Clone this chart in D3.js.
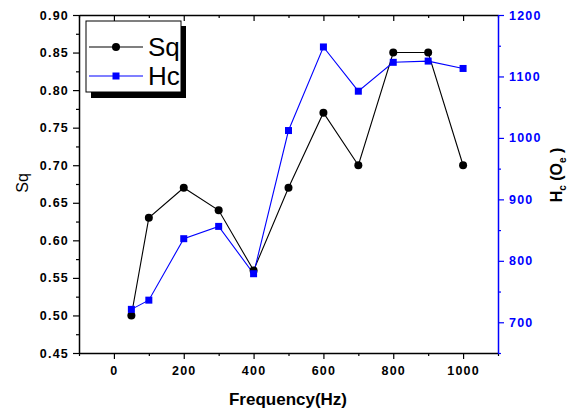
<!DOCTYPE html>
<html><head><meta charset="utf-8">
<script src="https://cdn.jsdelivr.net/npm/d3@7"></script>
<style>body{margin:0;background:#fff}svg{display:block}text{font-family:"Liberation Sans",Arial,sans-serif}</style>
</head><body>
<svg id="c" width="578" height="412"></svg>
<script>
const freq = [50, 100, 200, 300, 400, 500, 600, 700, 800, 900, 1000];
const sq = [0.50, 0.63, 0.67, 0.64, 0.56, 0.67, 0.77, 0.70, 0.85, 0.85, 0.70];
const hc = [721, 736, 836, 856, 779, 1012, 1148, 1076, 1123, 1125, 1113];
const xTicks = [0, 200, 400, 600, 800, 1000];
const yLeftTicks = [0.45, 0.50, 0.55, 0.60, 0.65, 0.70, 0.75, 0.80, 0.85, 0.90];
const yRightTicks = [700, 800, 900, 1000, 1100, 1200];

const svg = d3.select("#c");
const L = 79, R = 498, T = 15, B = 353;
const x = d3.scaleLinear().domain([-100, 1100]).range([L, R]);
const yl = d3.scaleLinear().domain([0.45, 0.90]).range([B, T]);
const yr = d3.scaleLinear().domain([650, 1200]).range([B, T]);
const blue = "#0000ff";

function style(g, color, sz) {
  g.selectAll("path.domain").attr("stroke", color).attr("stroke-width", 1.5);
  g.selectAll(".tick line").attr("stroke", color).attr("stroke-width", 1.2);
  g.selectAll(".tick text").attr("fill", color).attr("font-weight", "bold").attr("font-size", sz)
    .attr("letter-spacing", "1.2px");
}

// minor ticks
const xMinor = d3.range(-100, 1101, 200);
const ylMinor = d3.range(0, 9).map(i => 0.475 + i * 0.05);
const yrMinor = [650, 750, 850, 950, 1050, 1150];

// bottom axis
const gb = svg.append("g").attr("transform", `translate(0,${B})`)
  .call(d3.axisBottom(x).tickValues(xTicks).tickFormat(d3.format("d")).tickSize(6).tickPadding(5).tickSizeOuter(0));
style(gb, "#000", 12.5);
gb.selectAll(".tick text").attr("dy", "0.9em");
svg.append("g").attr("transform", `translate(0,${B})`)
  .call(d3.axisBottom(x).tickValues(xMinor).tickSize(3).tickFormat("").tickSizeOuter(0))
  .call(g => { g.select("path.domain").remove(); g.selectAll("line").attr("stroke", "#000").attr("stroke-width", 1.2); });

// top axis (ticks inward)
const gt = svg.append("g").attr("transform", `translate(0,${T})`)
  .call(d3.axisTop(x).tickValues(xTicks).tickSize(-6).tickFormat("").tickSizeOuter(0));
style(gt, "#000", 12);
svg.append("g").attr("transform", `translate(0,${T})`)
  .call(d3.axisTop(x).tickValues(xMinor).tickSize(-3).tickFormat("").tickSizeOuter(0))
  .call(g => { g.select("path.domain").remove(); g.selectAll("line").attr("stroke", "#000").attr("stroke-width", 1.2); });

// left axis
const gl = svg.append("g").attr("transform", `translate(${L},0)`)
  .call(d3.axisLeft(yl).tickValues(yLeftTicks).tickFormat(d3.format(".2f")).tickSize(6).tickPadding(4).tickSizeOuter(0));
style(gl, "#000", 12.5);
svg.append("g").attr("transform", `translate(${L},0)`)
  .call(d3.axisLeft(yl).tickValues(ylMinor).tickSize(3).tickFormat("").tickSizeOuter(0))
  .call(g => { g.select("path.domain").remove(); g.selectAll("line").attr("stroke", "#000").attr("stroke-width", 1.2); });

// right axis
const gr = svg.append("g").attr("transform", `translate(${R},0)`)
  .call(d3.axisRight(yr).tickValues(yRightTicks).tickFormat(d3.format("d")).tickSize(6).tickPadding(5).tickSizeOuter(0));
style(gr, blue, 12.5);
svg.append("g").attr("transform", `translate(${R},0)`)
  .call(d3.axisRight(yr).tickValues(yrMinor).tickSize(3).tickFormat("").tickSizeOuter(0))
  .call(g => { g.select("path.domain").remove(); g.selectAll("line").attr("stroke", blue).attr("stroke-width", 1.2); });

// axis titles
svg.append("text").attr("x", 288).attr("y", 405).attr("text-anchor", "middle")
  .attr("font-weight", "bold").attr("font-size", 17).text("Frequency(Hz)");
svg.append("text").attr("transform", "translate(28,183) rotate(-90)").attr("text-anchor", "middle")
  .attr("font-size", 16).text("Sq");
const rt = svg.append("text").attr("transform", "translate(562,175) rotate(-90)").attr("text-anchor", "middle")
  .attr("font-weight", "bold").attr("font-size", 16);
rt.append("tspan").text("H");
rt.append("tspan").attr("font-size", 10).attr("dy", 4).text("c");
rt.append("tspan").attr("dy", -4).text(" (O");
rt.append("tspan").attr("font-size", 10).attr("dy", 4).text("e");
rt.append("tspan").attr("dy", -4).text(" )");

// series
const lineSq = d3.line().x((d, i) => x(freq[i])).y(d => yl(d));
const lineHc = d3.line().x((d, i) => x(freq[i])).y(d => yr(d));
svg.append("path").datum(sq).attr("d", lineSq).attr("fill", "none").attr("stroke", "#000").attr("stroke-width", 1.1);
svg.append("path").datum(hc).attr("d", lineHc).attr("fill", "none").attr("stroke", blue).attr("stroke-width", 1.1);
svg.append("g").selectAll("circle").data(sq).join("circle")
  .attr("cx", (d, i) => x(freq[i])).attr("cy", d => yl(d)).attr("r", 4).attr("fill", "#000");
svg.append("g").selectAll("rect").data(hc).join("rect")
  .attr("x", (d, i) => x(freq[i]) - 3.5).attr("y", d => yr(d) - 3.5).attr("width", 7).attr("height", 7).attr("fill", blue);

// legend
const lg = svg.append("g");
lg.append("rect").attr("x", 91).attr("y", 26).attr("width", 95).attr("height", 72).attr("fill", "#000");
lg.append("rect").attr("x", 86).attr("y", 21).attr("width", 95).attr("height", 71).attr("fill", "#fff").attr("stroke", "#000").attr("stroke-width", 1);
const items = [{ name: "Sq", color: "#000", sym: "c", y: 47 }, { name: "Hc", color: blue, sym: "s", y: 76 }];
items.forEach(it => {
  lg.append("line").attr("x1", 89).attr("x2", 143).attr("y1", it.y).attr("y2", it.y).attr("stroke", it.color).attr("stroke-width", 1.1);
  if (it.sym === "c") lg.append("circle").attr("cx", 116).attr("cy", it.y).attr("r", 4).attr("fill", it.color);
  else lg.append("rect").attr("x", 112.5).attr("y", it.y - 3.5).attr("width", 7).attr("height", 7).attr("fill", it.color);
  lg.append("text").attr("x", 148).attr("y", it.y + 9).attr("font-size", 26).text(it.name);
});
</script>
</body></html>
